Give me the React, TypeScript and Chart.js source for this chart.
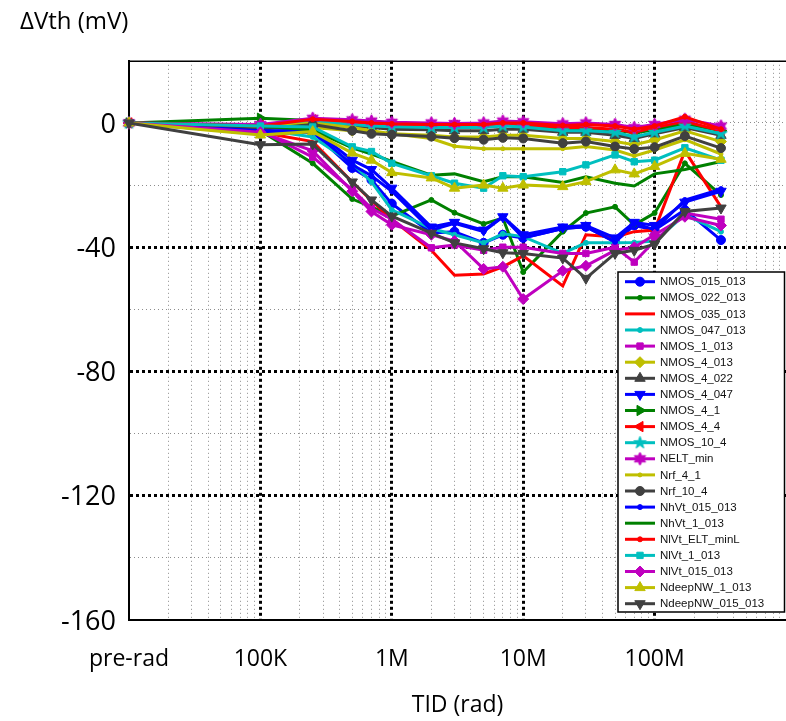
import React, { useEffect, useRef } from 'react';
import { Chart, registerables } from 'chart.js';
import { drawPoint } from 'chart.js/helpers';

Chart.register(...registerables);

// ---------- data ----------
const doses = [1e4, 1e5, 2.5e5, 5e5, 7e5, 1e6, 2e6, 3e6, 5e6, 7e6, 1e7, 2e7, 3e7, 5e7, 7e7, 1e8, 1.7e8, 3.2e8];

const seriesNames = [
  'NMOS_015_013', 'NMOS_022_013', 'NMOS_035_013', 'NMOS_047_013', 'NMOS_1_013', 'NMOS_4_013',
  'NMOS_4_022', 'NMOS_4_047', 'NMOS_4_1', 'NMOS_4_4', 'NMOS_10_4', 'NELT_min', 'Nrf_4_1',
  'Nrf_10_4', 'NhVt_015_013', 'NhVt_1_013', 'NlVt_ELT_minL', 'NlVt_1_013', 'NlVt_015_013',
  'NdeepNW_1_013', 'NdeepNW_015_013',
];

const NMOS_015_013 = [0, -3.5, -3, -14.5, -18.3, -26, -35.4, -35, -38.6, -36, -37, -34, -33.4, -38.3, -33, -34.4, -28, -37.7];
const NMOS_022_013 = [0, -2.5, -13, -24.5, -27, -30, -24.8, -28.9, -32.5, -30.6, -48, -35, -29, -27, -32.8, -29, -13, -23.2];
const NMOS_035_013 = [0, -3, -6, -19, -25, -31, -41, -49, -48.6, -46.3, -42.8, -52.5, -36, -36.7, -35, -34.5, -9, -27];
const NMOS_047_013 = [0, -2, -4.5, -13, -19, -28, -34, -36, -38.6, -35.7, -36.6, -42, -38.6, -38.6, -38.5, -38, -29.6, -35];
const NMOS_1_013 = [0, -2.5, -11, -21.5, -27.5, -31, -40.2, -39.3, -41, -40, -40, -42, -42, -40, -44.8, -38, -29, -31];
const NMOS_4_013 = [0, -3, -1.5, -2.5, -3, -3.5, -4, -4.5, -4.5, -4, -4, -5, -5, -6, -7, -5.5, -2.5, -6];
const NMOS_4_022 = [0, -1, 0.5, -1, -1.5, -2, -2.2, -2.5, -2.5, -2, -2, -3, -3, -4, -5, -3.5, -1.5, -4];
const NMOS_4_047 = [0, -3, -2, -12, -15, -21, -33.5, -32, -34.5, -30.2, -36, -33.5, -33, -37, -32, -33, -25.5, -22];
const NMOS_4_1 = [0, 1.5, 0.8, 0.3, -0.3, -0.5, -0.8, -1, -1, -0.8, -0.8, -1.8, -1.8, -2.3, -3.2, -2.2, -0.3, -2.5];
const NMOS_4_4 = [0, -0.8, 1, 0.3, -0.2, -0.5, -1, -0.8, -1, -0.5, -0.5, -1.5, -1.5, -2, -3, -1.5, 0.5, -2.5];
const NMOS_10_4 = [0, -1.5, 0.5, -0.5, -1, -1.2, -1.5, -1.5, -1.5, -1, -1.3, -2.5, -2.5, -3, -4.5, -3, -1, -3.5];
const NELT_min = [0, -0.5, 1.5, 1, 0.6, 0.2, 0, -0.2, 0, 0.6, 0.4, -0.3, 0, -0.5, -1.5, -0.5, 1.2, -1];
const Nrf_4_1 = [0, -1.5, 0, -1.5, -2.5, -3.5, -5, -7.5, -8.3, -8.3, -8.3, -8.3, -7.6, -8.7, -10.6, -8.7, -5.4, -10];
const Nrf_10_4 = [0, -2, -0.5, -2.5, -3.5, -3.8, -4.4, -4.9, -5.4, -4.8, -5, -6.5, -6, -7.6, -8.4, -7.8, -4.2, -8.1];
const NhVt_015_013 = [0, -2.5, -2.5, -13.5, -17, -22, -34.5, -32.3, -35, -30.2, -37, -34, -33.4, -38.3, -32.2, -34.4, -24.8, -21.3];
const NhVt_1_013 = [0, -1, -2.3, -8, -10, -12.4, -16.8, -16.4, -18.9, -17.3, -17.3, -19.2, -17.3, -19.4, -20.3, -16.4, -15, -12.4];
const NlVt_ELT_minL = [0, -1, 1.2, 0.5, 0, -0.3, -0.5, -0.5, -0.5, 0, 0, -0.8, -0.5, -1, -2, -1, 2, -2];
const NlVt_1_013 = [0, -1, -1.3, -7.7, -9.2, -13, -17, -19.4, -21, -17, -17.3, -15.7, -13.5, -10.3, -12.5, -12, -8, -12];
const NlVt_015_013 = [0, -3, -9, -22, -28.5, -32.8, -36, -38, -47, -46.3, -56.7, -47.6, -46, -41, -40, -36, -30.2, -33];
const NdeepNW_1_013 = [0, -3.9, -2.8, -9.7, -12, -16, -17.7, -21, -20, -21, -20, -20.5, -18.9, -15.1, -16.4, -14, -9.8, -11.7];
const NdeepNW_015_013 = [0, -7, -6.8, -19, -24.8, -30, -35.5, -38.6, -40.5, -41.8, -42, -43.5, -50, -42, -41, -39, -28.5, -27.4];

const seriesValues = [
  NMOS_015_013, NMOS_022_013, NMOS_035_013, NMOS_047_013, NMOS_1_013, NMOS_4_013,
  NMOS_4_022, NMOS_4_047, NMOS_4_1, NMOS_4_4, NMOS_10_4, NELT_min, Nrf_4_1,
  Nrf_10_4, NhVt_015_013, NhVt_1_013, NlVt_ELT_minL, NlVt_1_013, NlVt_015_013,
  NdeepNW_1_013, NdeepNW_015_013,
];

// tick labels
const xLabelValues = [1e4, 1e5, 1e6, 1e7, 1e8];
const xLabelTexts = ['pre-rad', '100K', '1M', '10M', '100M'];
const yLabelValues = [0, -40, -80, -120, -160];
const yMajorGrid = [-40, -80, -120];

// ---------- styles ----------
const BLUE = '#0000FF', GREEN = '#008000', RED = '#FF0000', CYAN = '#00BFBF',
  MAGENTA = '#BF00BF', OLIVE = '#BFBF00', GRAY = '#404040';

type Sty = { color: string; marker: string; r: number; rot?: number };
const styles: Sty[] = [
  { color: BLUE, marker: 'circle', r: 4.5 },
  { color: GREEN, marker: 'circle', r: 2.5 },
  { color: RED, marker: 'none', r: 0 },
  { color: CYAN, marker: 'circle', r: 2.5 },
  { color: MAGENTA, marker: 'rect', r: 4.5 },
  { color: OLIVE, marker: 'rectRot', r: 5.5 },
  { color: GRAY, marker: 'triangle', r: 6 },
  { color: BLUE, marker: 'triangle', r: 6, rot: 180 },
  { color: GREEN, marker: 'triangle', r: 6, rot: 90 },
  { color: RED, marker: 'triangle', r: 6, rot: 270 },
  { color: CYAN, marker: 'pentagram', r: 7 },
  { color: MAGENTA, marker: 'hexagram', r: 7 },
  { color: OLIVE, marker: 'circle', r: 2 },
  { color: GRAY, marker: 'circle', r: 4.5 },
  { color: BLUE, marker: 'circle', r: 2.5 },
  { color: GREEN, marker: 'none', r: 0 },
  { color: RED, marker: 'circle', r: 2.5 },
  { color: CYAN, marker: 'rect', r: 4.5 },
  { color: MAGENTA, marker: 'rectRot', r: 5.5 },
  { color: OLIVE, marker: 'triangle', r: 6 },
  { color: GRAY, marker: 'triangle', r: 6, rot: 180 },
];

const VIEW_W = 786;
const VIEW_H = 721;

function makeStar(color: string, points: number, rOuter: number, rInner: number): HTMLCanvasElement {
  const size = Math.ceil(rOuter * 2 + 2);
  const c = document.createElement('canvas');
  c.width = size;
  c.height = size;
  const g = c.getContext('2d')!;
  g.fillStyle = color;
  g.strokeStyle = color;
  g.lineWidth = 1;
  g.beginPath();
  for (let i = 0; i < points * 2; i++) {
    const r = i % 2 === 0 ? rOuter : rInner;
    const a = -Math.PI / 2 + (i * Math.PI) / points;
    const x = size / 2 + r * Math.cos(a);
    const y = size / 2 + r * Math.sin(a);
    if (i === 0) g.moveTo(x, y);
    else g.lineTo(x, y);
  }
  g.closePath();
  g.fill();
  g.stroke();
  return c;
}

function isDecade(v: number) {
  const l = Math.log10(v);
  return Math.abs(l - Math.round(l)) < 1e-9;
}
function isMajorX(v: any) {
  return typeof v === 'number' && v >= 1e5 && v <= 1e8 && isDecade(v);
}

const topBorderPlugin = {
  id: 'topBorder',
  beforeDatasetsDraw(chart: any) {
    const { ctx, chartArea } = chart;
    ctx.save();
    ctx.strokeStyle = '#000';
    ctx.lineWidth = 1.5;
    ctx.beginPath();
    ctx.moveTo(chartArea.left, chartArea.top + 0.5);
    ctx.lineTo(chartArea.right, chartArea.top + 0.5);
    ctx.stroke();
    ctx.restore();
  },
};

const boxLegendPlugin = {
  id: 'boxLegend',
  afterDraw(chart: any) {
    const { ctx, chartArea } = chart;
    const right = Math.min(chartArea.right, VIEW_W) - 1.5;
    const left = right - 166.5;
    const bottom = chartArea.bottom - 8;
    const top = bottom - 340;
    ctx.save();
    ctx.fillStyle = '#fff';
    ctx.fillRect(left, top, right - left, bottom - top);
    ctx.lineWidth = 1.5;
    ctx.strokeStyle = '#000';
    ctx.strokeRect(left, top, right - left, bottom - top);
    const ds = chart.data.datasets;
    ds.forEach((d: any, i: number) => {
      const y = top + 9.7 + i * 16.1;
      ctx.strokeStyle = d.borderColor;
      ctx.lineWidth = 3;
      ctx.beginPath();
      ctx.moveTo(left + 7, y);
      ctx.lineTo(left + 37, y);
      ctx.stroke();
      if (d.pointRadius > 0) {
        ctx.fillStyle = d.pointBackgroundColor;
        ctx.strokeStyle = d.pointBorderColor;
        ctx.lineWidth = 1;
        drawPoint(ctx, { pointStyle: d.pointStyle, rotation: d.pointRotation || 0, radius: d.pointRadius, borderWidth: 1 } as any, left + 22, y);
      }
      ctx.fillStyle = '#111';
      ctx.font = '11.5px "Liberation Sans", Arial, sans-serif';
      ctx.textBaseline = 'middle';
      ctx.textAlign = 'left';
      ctx.fillText(d.label, left + 42, y + 0.5);
    });
    ctx.restore();
  },
};

export default function App() {
  const ref = useRef<HTMLCanvasElement | null>(null);

  useEffect(() => {
    if (!ref.current) return;
    const n = seriesValues.length;
    const datasets = seriesValues.map((vals, i) => {
      const s = styles[i];
      let pointStyle: any = s.marker;
      if (s.marker === 'pentagram') pointStyle = makeStar(s.color, 5, 6.5, 2.6);
      if (s.marker === 'hexagram') pointStyle = makeStar(s.color, 6, 6.5, 3.6);
      return {
        label: seriesNames[i],
        data: doses.map((x, k) => ({ x, y: vals[k] })),
        borderColor: s.color,
        backgroundColor: s.color,
        pointBackgroundColor: s.color,
        pointBorderColor: s.color,
        borderWidth: 3,
        pointRadius: s.marker === 'none' ? 0 : s.r,
        pointStyle: s.marker === 'none' ? 'circle' : pointStyle,
        pointRotation: s.rot || 0,
        pointBorderWidth: 1,
        tension: 0,
        clip: false as any,
        order: n - i,
      };
    });

    const xTicks: number[] = [];
    for (let e = 4; e <= 8; e++) for (let m = 1; m <= 9; m++) xTicks.push(m * Math.pow(10, e));
    xTicks.push(1e9);

    const chart = new Chart(ref.current, {
      type: 'line',
      data: { datasets: datasets as any },
      plugins: [topBorderPlugin, boxLegendPlugin],
      options: {
        animation: false,
        responsive: false,
        devicePixelRatio: 1,
        layout: { padding: { left: 20, right: 0, top: 0, bottom: 0 } },
        plugins: {
          legend: { display: false },
          tooltip: { enabled: false },
          title: {
            display: true,
            text: 'ΔVth (mV)',
            align: 'start',
            color: '#000',
            font: { family: '"Open Sans", sans-serif', size: 24, weight: 'normal' },
            padding: { top: 8, bottom: 24 },
          },
        },
        scales: {
          x: {
            type: 'logarithmic',
            min: 1e4,
            max: 1e9,
            afterBuildTicks: (scale: any) => {
              scale.ticks = xTicks.map((v) => ({ value: v }));
            },
            afterFit: (scale: any) => {
              scale.height = 101;
              scale.paddingLeft = 0;
              scale.paddingRight = 0;
            },
            ticks: {
              autoSkip: false,
              maxRotation: 0,
              padding: 26,
              color: '#000',
              font: { family: '"Open Sans", sans-serif', size: 23 },
              callback: (v: any) => {
                const idx = xLabelValues.findIndex((t) => Math.abs(t - v) / t < 1e-9);
                return idx >= 0 ? xLabelTexts[idx] : '';
              },
            },
            grid: {
              drawTicks: false,
              color: (c: any) => {
                const v = c.tick?.value;
                if (v == null) return 'transparent';
                if (isMajorX(v)) return '#000';
                if (v <= 1e4 * 1.0001 || v >= 1e9 * 0.9999) return 'transparent';
                return '#8c8c8c';
              },
              lineWidth: (c: any) => (isMajorX(c.tick?.value) ? 3 : 1),
            },
            border: {
              display: true,
              color: '#000',
              width: 2,
              dash: (c: any) => (c.tick ? (isMajorX(c.tick.value) ? [3, 3] : [1, 3]) : []),
            } as any,
            title: {
              display: true,
              text: 'TID (rad)',
              color: '#000',
              font: { family: '"Open Sans", sans-serif', size: 23 },
              padding: { top: 0, bottom: 2 },
            },
          },
          y: {
            type: 'linear',
            min: -160,
            max: 20,
            afterFit: (scale: any) => {
              scale.width = 109;
              scale.paddingTop = 0;
              scale.paddingBottom = 0;
            },
            ticks: {
              stepSize: 20,
              padding: 13,
              labelOffset: 2,
              color: '#000',
              font: { family: '"Open Sans", sans-serif', size: 27 },
              callback: (v: any) => (yLabelValues.includes(v) ? String(v) : ''),
            },
            grid: {
              drawTicks: false,
              color: (c: any) => {
                const v = c.tick?.value;
                if (v == null || v <= -160 || v >= 20) return 'transparent';
                return yMajorGrid.includes(v) ? '#000' : '#8c8c8c';
              },
              lineWidth: (c: any) => (yMajorGrid.includes(c.tick?.value) ? 3 : 1),
            },
            border: {
              display: true,
              color: '#000',
              width: 2,
              dash: (c: any) => (c.tick ? (yMajorGrid.includes(c.tick.value) ? [3, 3] : [1, 3]) : []),
            } as any,
          },
        },
      } as any,
    });
    return () => chart.destroy();
  }, []);

  return (
    <div style={{ position: 'absolute', left: 0, top: 0, width: VIEW_W, height: VIEW_H, overflow: 'hidden', background: '#fff' }}>
      <canvas ref={ref} width={VIEW_W + 8} height={VIEW_H} style={{ display: 'block' }} />
    </div>
  );
}
